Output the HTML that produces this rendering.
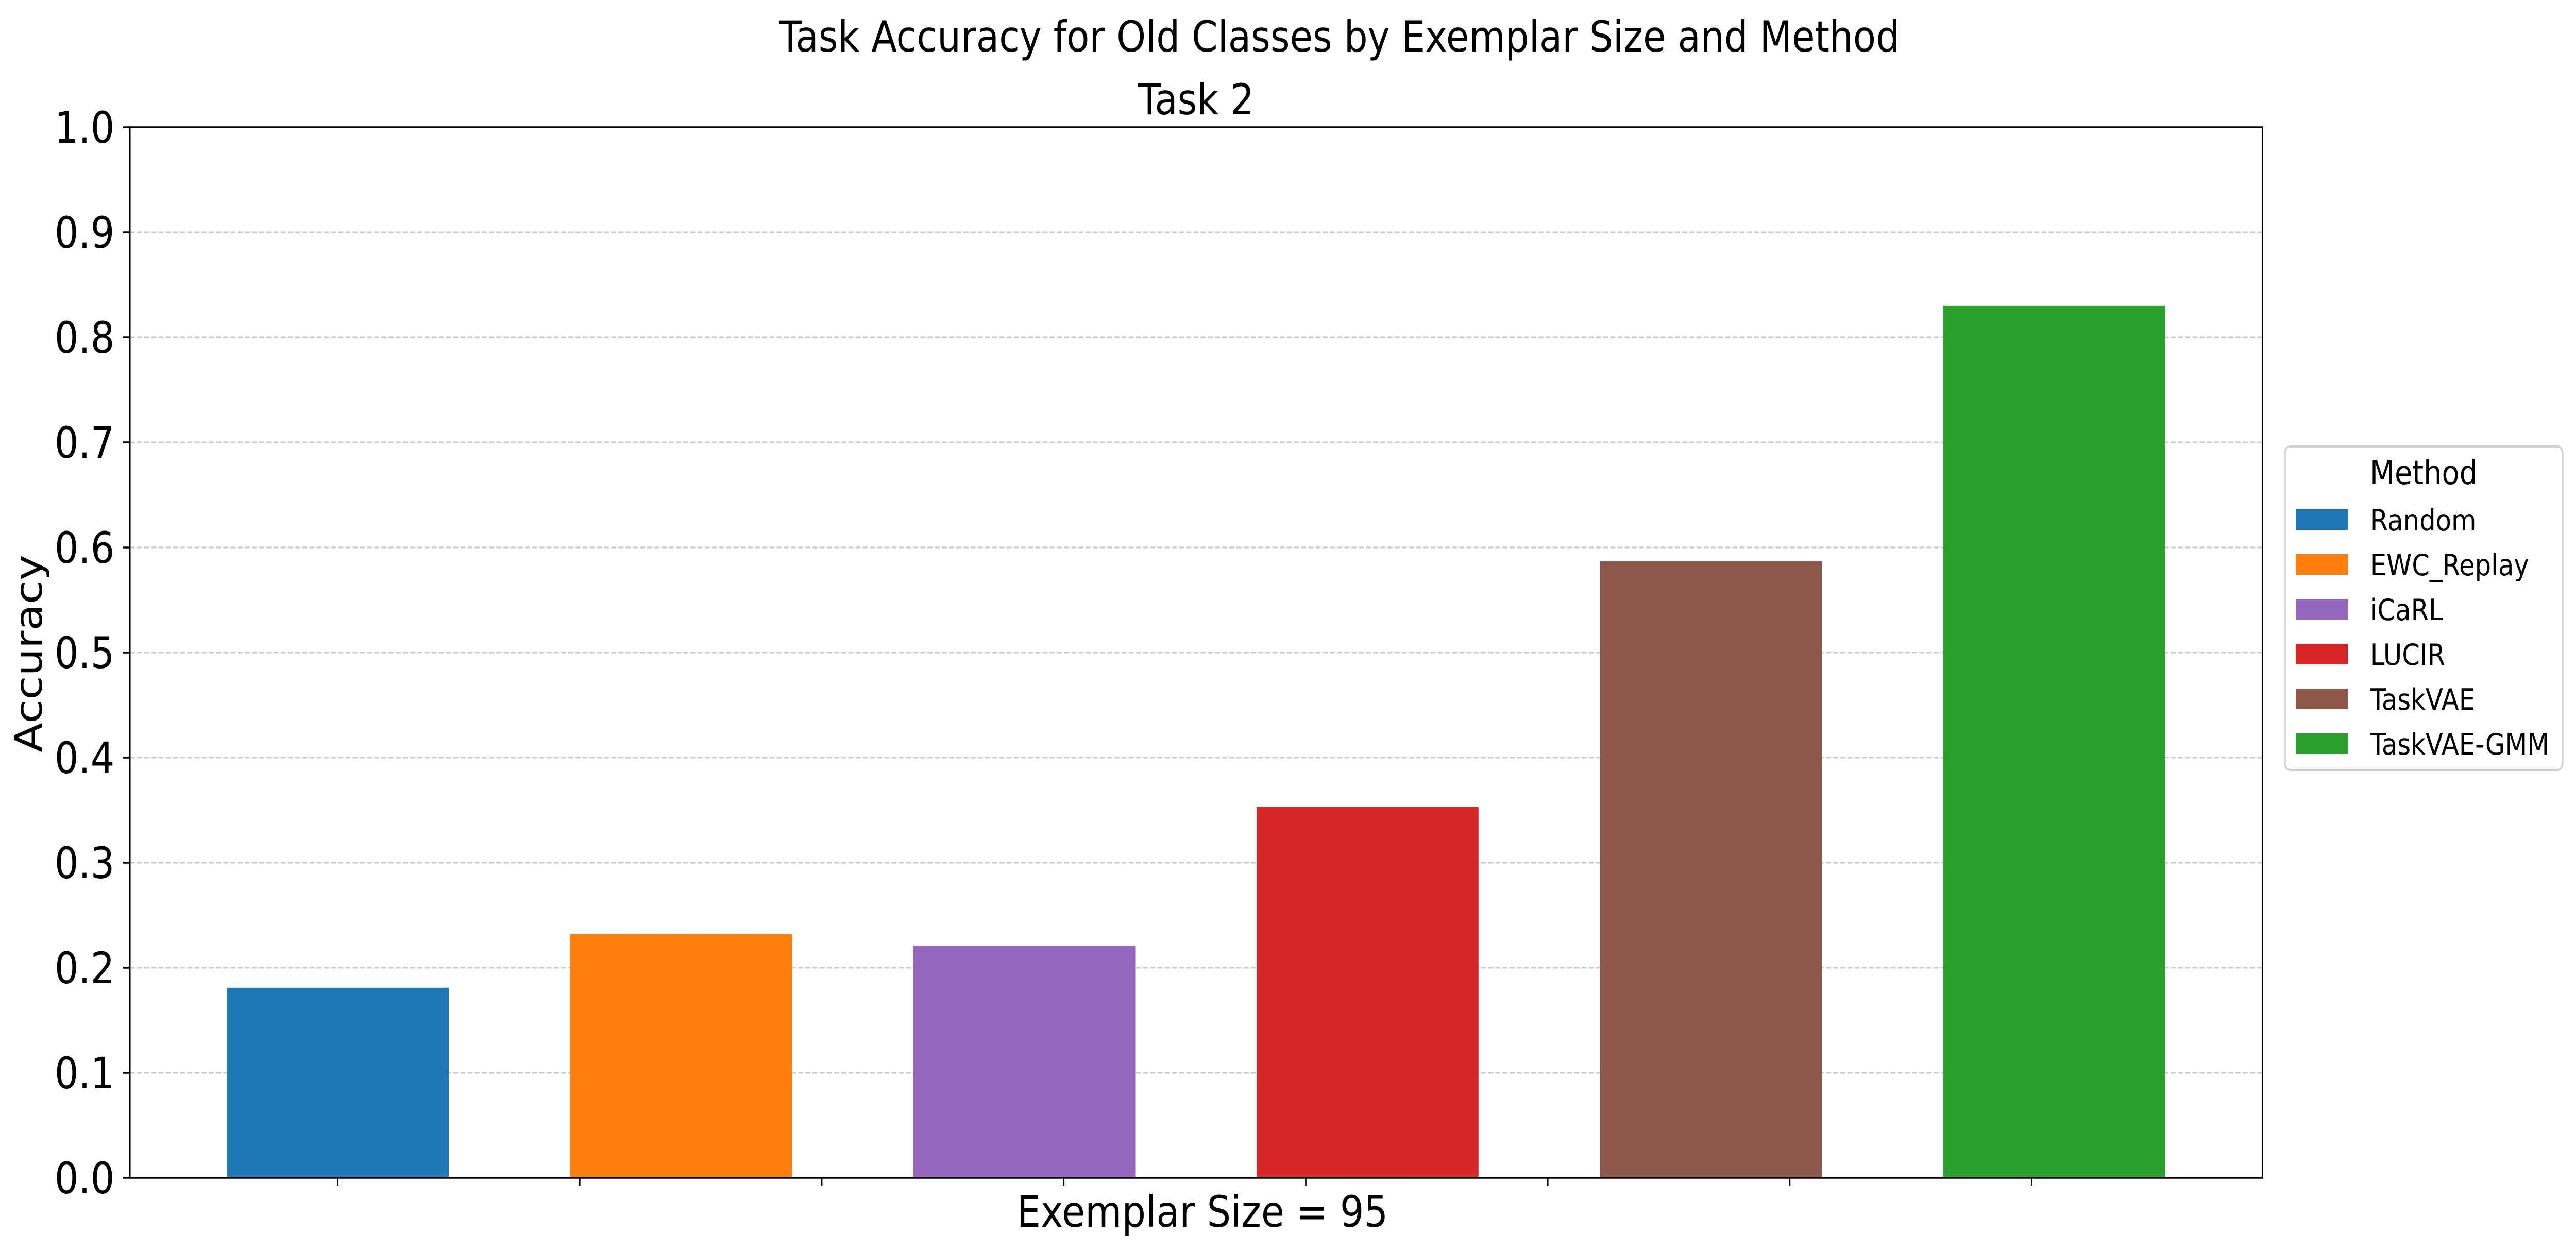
<!DOCTYPE html>
<html><head><meta charset="utf-8"><style>
html,body{margin:0;padding:0;background:#fff;overflow:hidden;width:100%;height:100%;}
#chart{display:block;width:100vw;height:100vh;}
svg text{font-family:"DejaVu Sans","Liberation Sans",sans-serif;fill:#000;}
</style></head><body>
<svg id="chart" viewBox="0 0 5735 2429" preserveAspectRatio="none" xmlns="http://www.w3.org/2000/svg">
<rect width="5735" height="2429" fill="#fff"/>
<text x="4229" y="100" text-anchor="end" font-size="83">Task Accuracy for Old Classes by Exemplar Size and Method</text>
<text x="2663" y="222" text-anchor="middle" font-size="83">Task 2</text>
<g id="grid"></g>
<g id="bars"></g>
<g id="yaxis"></g>
<g id="xaxis"></g>
<rect x="289" y="247" width="4748" height="2040" fill="none" stroke="#000" stroke-width="3.5"/>
<text transform="translate(93,1269) rotate(-90)" text-anchor="middle" font-size="84">Accuracy</text>
<text x="2677" y="2382" text-anchor="middle" font-size="84">Exemplar Size = 95</text>
<g id="legend">
<rect x="5087" y="867" width="618" height="628" rx="12" fill="#fff" stroke="#d0d0d0" stroke-width="4"/>
<text x="5396" y="940" text-anchor="middle" font-size="64">Method</text>
</g>
</svg>
<script>
const methods = ["Random","EWC_Replay","iCaRL","LUCIR","TaskVAE","TaskVAE-GMM"];
const accuracy = [0.181,0.232,0.221,0.353,0.587,0.830];
const colors = ["#1f77b4","#ff7f0e","#9467bd","#d62728","#8c564b","#2ca02c"];
const yTicks = [0.0,0.1,0.2,0.3,0.4,0.5,0.6,0.7,0.8,0.9,1.0];
const yTickLabels = ["0.0","0.1","0.2","0.3","0.4","0.5","0.6","0.7","0.8","0.9","1.0"];
const xTicks = [0,0.705,1.41,2.115,2.82,3.525,4.23,4.935];

const NS="http://www.w3.org/2000/svg";
const Y0=2287, YH=2040, X0=752, XS=764.2, BW=494;
function y(v){return Y0 - v*YH;}
function x(i){return X0 + i*XS;}
function mk(tag, attrs, parent){const e=document.createElementNS(NS,tag);for(const k in attrs)e.setAttribute(k,attrs[k]);parent.appendChild(e);return e;}

const grid=document.getElementById('grid'), yaxis=document.getElementById('yaxis');
yTicks.forEach((v,i)=>{
  if(v>0 && v<1){
    const g=mk('line',{x1:289,x2:5037,y1:y(v),y2:y(v),stroke:'#c8c8c8','stroke-width':3,'stroke-dasharray':'11 5'},grid);
    
    
  }
  const t=mk('line',{x1:274,x2:289,y1:y(v),y2:y(v),stroke:'#000','stroke-width':3.5},yaxis);
  
  
  const l=mk('text',{x:255,y:y(v)+30,'text-anchor':'end','font-size':84},yaxis);
  l.textContent=yTickLabels[i];
  
  
});
const xaxis=document.getElementById('xaxis');
xTicks.forEach(v=>{
  const t=mk('line',{x1:x(v),x2:x(v),y1:Y0,y2:Y0+15,stroke:'#000','stroke-width':3},xaxis);
  
  
});
const bars=document.getElementById('bars');
accuracy.forEach((v,i)=>{
  const r=mk('rect',{x:x(i)-BW/2,y:y(v),width:BW,height:Y0-y(v),fill:colors[i]},bars);
  
  
});
const legend=document.getElementById('legend');
methods.forEach((m,i)=>{
  const cy=1009+i*87;
  const p=mk('rect',{x:5111,y:cy-20,width:116,height:40,fill:colors[i]},legend);
  
  
  const t=mk('text',{x:5277,y:cy+21,'font-size':57},legend);
  t.textContent=m;
  
  
});
</script>
</body></html>
